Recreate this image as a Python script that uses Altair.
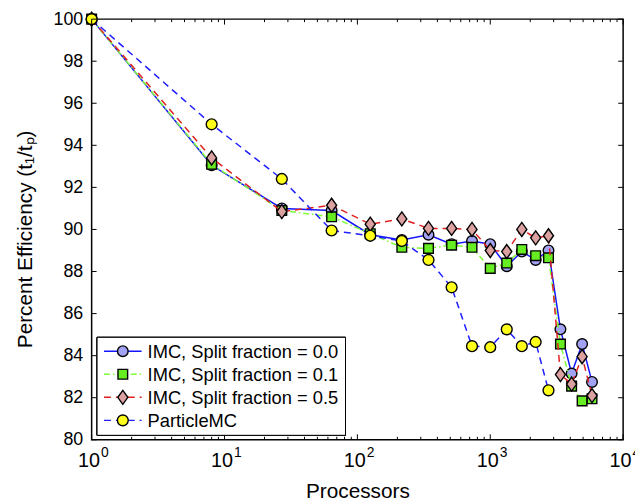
import altair as alt
import pandas as pd

# ---------------- data ----------------
procs = [1, 8, 27, 64, 125, 216, 343, 512, 729, 1000, 1331, 1728, 2197, 2744, 3375, 4096, 4913, 5832]
imc_00 = [100, 93.05, 91.0, 90.9, 89.75, 89.5, 89.75, 89.3, 89.45, 89.3, 88.25, 88.95, 88.55, 89.0, 85.25, 83.15, 84.55, 82.75]
imc_01 = [100, 93.1, 90.9, 90.6, 89.8, 89.15, 89.1, 89.25, 89.15, 88.15, 88.4, 89.05, 88.75, 88.65, 84.55, 82.55, 81.85, 81.95]
imc_05 = [100, 93.4, 90.85, 91.15, 90.25, 90.5, 90.05, 90.05, 90.0, 89.0, 88.95, 90.0, 89.6, 89.7, 83.1, 82.65, 83.95, 82.1]
pmc_procs = [1, 8, 27, 64, 125, 216, 343, 512, 729, 1000, 1331, 1728, 2197, 2744]
pmc = [100, 95.0, 92.4, 89.95, 89.7, 89.45, 88.55, 87.25, 84.45, 84.4, 85.25, 84.45, 84.65, 82.35]

series_names = ["IMC, Split fraction = 0.0", "IMC, Split fraction = 0.1",
                "IMC, Split fraction = 0.5", "ParticleMC"]
series_x = [procs, procs, procs, pmc_procs]
series_y = [imc_00, imc_01, imc_05, pmc]

y_ticks = [80, 82, 84, 86, 88, 90, 92, 94, 96, 98, 100]
decades = [1, 10, 100, 1000, 10000]
exponents = ["0", "1", "2", "3", "4"]
minor_ticks = [m * 10 ** d for d in range(4) for m in range(2, 10)]

# ---------------- style ----------------
W, H = 537, 425
FONT = "Liberation Sans"
line_colors = ["#1414ff", "#7dff3a", "#e02020", "#1e1eff"]
fill_colors = ["#a3a3f5", "#66ee22", "#dba0a0", "#ffff1a"]
dashes = [None, [6, 3, 1.5, 3], [7, 5], [7, 5]]
DIAMOND = "M0,-1L0.72,0L0,1L-0.72,0Z"
shapes = ["circle", "square", DIAMOND, "circle"]
sizes = [115, 95, 200, 120]

xscale = alt.Scale(type="log", domain=[1, 10000], nice=False)
yscale = alt.Scale(domain=[80, 100], nice=False, zero=False)

x_axis = alt.Axis(labels=False, ticks=False, domain=False, grid=False,
                  title="Processors", titleFont=FONT, titleFontSize=21,
                  titleFontWeight="normal", titleColor="black",
                  titleBaseline="alphabetic", titleY=58)
y_axis = alt.Axis(values=y_ticks, ticks=False, tickSize=0, domain=False, grid=False,
                  labelFont=FONT, labelFontSize=18, labelColor="black", labelPadding=9,
                  title="Percent Efficiency (t\u2081/t\u209a)", titleFont=FONT,
                  titleFontSize=21, titleFontWeight="normal", titleColor="black",
                  titleBaseline="alphabetic", titleX=-61, titleY=222, titleAngle=270)


def X(field):
    return alt.X(field, type="quantitative", scale=xscale, axis=x_axis)


def Y(field):
    return alt.Y(field, type="quantitative", scale=yscale, axis=y_axis)


layers = []
for i in range(4):
    df = pd.DataFrame({"procs": series_x[i], "eff": series_y[i]})
    base = alt.Chart(df)
    lkw = dict(color=line_colors[i], strokeWidth=1.5)
    if dashes[i] is not None:
        lkw["strokeDash"] = dashes[i]
    layers.append(base.mark_line(**lkw).encode(x=X("procs"), y=Y("eff")))
    layers.append(base.mark_point(shape=shapes[i], filled=True, fill=fill_colors[i],
                                  stroke="black", strokeWidth=1.4, size=sizes[i],
                                  opacity=1).encode(x=X("procs"), y=Y("eff")))

# inward ticks
maj = alt.Chart(pd.DataFrame({"t": decades}))
mnr = alt.Chart(pd.DataFrame({"t": minor_ticks}))
ytk = alt.Chart(pd.DataFrame({"v": y_ticks}))
tick_style = dict(color="black", strokeWidth=1)
layers += [
    maj.mark_rule(**tick_style).encode(x=X("t"), y=alt.value(H), y2=alt.value(H - 5.5)),
    maj.mark_rule(**tick_style).encode(x=X("t"), y=alt.value(0), y2=alt.value(5.5)),
    mnr.mark_rule(**tick_style).encode(x=X("t"), y=alt.value(H), y2=alt.value(H - 3)),
    mnr.mark_rule(**tick_style).encode(x=X("t"), y=alt.value(0), y2=alt.value(3)),
    ytk.mark_rule(**tick_style).encode(y=Y("v"), x=alt.value(0), x2=alt.value(5)),
    ytk.mark_rule(**tick_style).encode(y=Y("v"), x=alt.value(W), x2=alt.value(W - 5)),
]

# x tick labels 10^n
lab = alt.Chart(pd.DataFrame({"t": decades, "base": ["10"] * 5, "e": exponents}))
layers += [
    lab.mark_text(align="right", baseline="alphabetic", dx=8.5, font=FONT, fontSize=20,
                  color="black").encode(x=X("t"), y=alt.value(H + 27.5), text="base:N"),
    lab.mark_text(align="left", baseline="alphabetic", dx=9.5, font=FONT, fontSize=14,
                  color="black").encode(x=X("t"), y=alt.value(H + 17), text="e:N"),
]

# legend
one = alt.Chart(pd.DataFrame({"name": series_names}))
layers.append(one.mark_rect(fill="white", stroke="black", strokeWidth=1).encode(
    x=alt.value(5.5), x2=alt.value(256.5), y=alt.value(321.5), y2=alt.value(420.5)))
for i, name in enumerate(series_names):
    row = alt.Chart(pd.DataFrame({"name": [name]}))
    ly = 335.5 + 23.3 * i
    lkw = dict(color=line_colors[i], strokeWidth=1.5)
    if dashes[i] is not None:
        lkw["strokeDash"] = dashes[i]
    layers.append(row.mark_rule(**lkw).encode(x=alt.value(12.5), x2=alt.value(50.5),
                                              y=alt.value(ly)))
    layers.append(row.mark_point(shape=shapes[i], filled=True, fill=fill_colors[i],
                                 stroke="black", strokeWidth=1.4, size=sizes[i],
                                 opacity=1).encode(x=alt.value(31.5), y=alt.value(ly)))
    layers.append(row.mark_text(align="left", baseline="middle", font=FONT, fontSize=18.5,
                                color="black").encode(x=alt.value(56.5), y=alt.value(ly + 1),
                                                      text="name:N"))

chart = alt.layer(*layers).properties(
    width=W, height=H,
    autosize=alt.AutoSizeParams(type="none"),
    padding={"left": 84.5, "top": 8.7, "right": 12, "bottom": 59},
    background="white",
).configure_view(stroke="black", strokeWidth=1.5)

chart.save("out.html", embed_options={"renderer": "svg", "actions": False})
